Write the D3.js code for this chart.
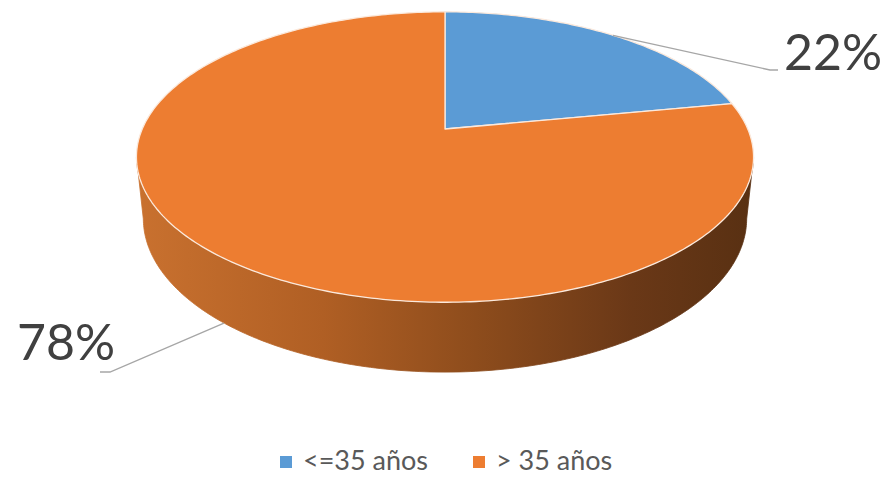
<!DOCTYPE html>
<html><head><meta charset="utf-8">
<script src="https://cdn.jsdelivr.net/npm/d3@7"></script>
<style>body{margin:0;background:#fff}svg{display:block}</style>
</head><body>
<svg id="c" width="887" height="478"></svg>
<script>
const categories = ["<=35 años", "> 35 años"];
const values = [22, 78];
const labels = ["22%", "78%"];
const colors = ["#5b9bd5", "#ed7d31"];

const svg = d3.select("#c");
// perspective parameters
const cx = 445, cy = 129;
const phi = 26.9 * Math.PI / 180, s = Math.sin(phi), c = Math.cos(phi);
const D = 4.616, F = 1426, h = 0.224, kx = 0.98;
function proj(t, y) {
  const x = Math.sin(t), z = Math.cos(t);
  const depth = D + z * c - y * s;
  const up = y * c + z * s;
  return [cx + kx * F * x / depth, cy - F * up / depth];
}
const pie = d3.pie().sort(null).value(d => d)(values);

const defs = svg.append("defs");
const g = defs.append("linearGradient").attr("id", "side").attr("gradientUnits", "userSpaceOnUse")
  .attr("x1", 136).attr("x2", 756).attr("y1", 0).attr("y2", 0);
[[0, "#c9712f"], [0.3, "#b05f24"], [0.55, "#8d4c1c"], [0.8, "#6a3817"], [1, "#583012"]]
  .forEach(([o, col]) => g.append("stop").attr("offset", o).attr("stop-color", col));

// silhouette angles
let tR = 0, tL = 0, maxX = -1e9, minX = 1e9;
for (let i = 0; i <= 3600; i++) {
  const t = i / 3600 * 2 * Math.PI;
  const p = proj(t, 0);
  if (p[0] > maxX) { maxX = p[0]; tR = t; }
  if (p[0] < minX) { minX = p[0]; tL = t; }
}
const N = 200;
const sidePts = [];
for (let i = 0; i <= N; i++) sidePts.push(proj(tR + (tL - tR) * i / N, 0));
for (let i = N; i >= 0; i--) sidePts.push(proj(tR + (tL - tR) * i / N, -h));
svg.append("path").attr("d", "M" + sidePts.map(p => p.join(",")).join("L") + "Z")
  .attr("fill", "url(#side)").attr("stroke", "url(#side)").attr("stroke-width", 0.8);

// top faces
pie.forEach((d, i) => {
  const pts = [[cx, cy]];
  const n = Math.max(8, Math.ceil((d.endAngle - d.startAngle) / (2 * Math.PI) * 400));
  for (let j = 0; j <= n; j++) pts.push(proj(d.startAngle + (d.endAngle - d.startAngle) * j / n, 0));
  svg.append("path").attr("d", "M" + pts.map(p => p.join(",")).join("L") + "Z")
    .attr("fill", colors[i]).attr("stroke", "#fbe9dc").attr("stroke-width", 1.3)
    .attr("stroke-linejoin", "round");
});

// leader lines and labels
const mid0 = (pie[0].startAngle + pie[0].endAngle) / 2;
const p0 = proj(mid0, 0);
svg.append("polyline").attr("points", [p0, [770, 70], [778, 70]].map(p => p.join(",")).join(" "))
  .attr("fill", "none").attr("stroke", "#a6a6a6").attr("stroke-width", 1.3);
const mid1 = (pie[1].startAngle + pie[1].endAngle) / 2;
const p1 = proj(mid1, -h);
svg.append("polyline").attr("points", [p1, [110, 372], [100, 372]].map(p => p.join(",")).join(" "))
  .attr("fill", "none").attr("stroke", "#a6a6a6").attr("stroke-width", 1.3);

const lab = svg.append("g").attr("font-family", "Lato, 'Open Sans', sans-serif").attr("fill", "#404040").attr("font-size", 50);
lab.append("text").attr("x", 784).attr("y", 70).text(labels[0]);
lab.append("text").attr("x", 17).attr("y", 360).text(labels[1]);

// legend
const leg = svg.append("g").attr("font-family", "Lato, 'Open Sans', sans-serif").attr("font-size", 27).attr("fill", "#595959");
const legX = [280, 473];
categories.forEach((cat, i) => {
  leg.append("rect").attr("x", legX[i]).attr("y", 456).attr("width", 12).attr("height", 12).attr("fill", colors[i]);
  leg.append("text").attr("x", legX[i] + 23).attr("y", 470).text(cat);
});
</script>
</body></html>
